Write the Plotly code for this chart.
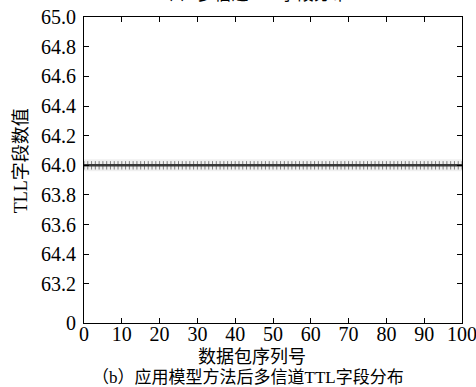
import plotly.graph_objects as go

# ---- data ----
packet_ids = list(range(0, 101))
ttl_values = [
    64.0, 64.0, 64.0, 64.0, 64.0, 64.0, 64.0, 64.0, 64.0, 64.0,
    64.0, 64.0, 64.0, 64.0, 64.0, 64.0, 64.0, 64.0, 64.0, 64.0,
    64.0, 64.0, 64.0, 64.0, 64.0, 64.0, 64.0, 64.0, 64.0, 64.0,
    64.0, 64.0, 64.0, 64.0, 64.0, 64.0, 64.0, 64.0, 64.0, 64.0,
    64.0, 64.0, 64.0, 64.0, 64.0, 64.0, 64.0, 64.0, 64.0, 64.0,
    64.0, 64.0, 64.0, 64.0, 64.0, 64.0, 64.0, 64.0, 64.0, 64.0,
    64.0, 64.0, 64.0, 64.0, 64.0, 64.0, 64.0, 64.0, 64.0, 64.0,
    64.0, 64.0, 64.0, 64.0, 64.0, 64.0, 64.0, 64.0, 64.0, 64.0,
    64.0, 64.0, 64.0, 64.0, 64.0, 64.0, 64.0, 64.0, 64.0, 64.0,
    64.0, 64.0, 64.0, 64.0, 64.0, 64.0, 64.0, 64.0, 64.0, 64.0,
    64.0,
]
x_tick_vals = [0, 10, 20, 30, 40, 50, 60, 70, 80, 90, 100]
y_tick_vals = [62.937, 63.2, 63.4, 63.6, 63.8, 64.0, 64.2, 64.4, 64.6, 64.8, 65.0]
y_tick_text = ["0", "63.2", "64.4", "63.6", "63.8", "64.0", "64.2", "64.4", "64.6", "64.8", "65.0"]

FONT = "Liberation Serif, 'Noto Sans CJK SC', serif"

fig = go.Figure()
# faint halo
fig.add_trace(go.Scatter(
    x=packet_ids, y=ttl_values, mode="lines",
    line=dict(color="rgba(0,0,0,0.06)", width=12),
    hoverinfo="skip", showlegend=False))
# core line with tick markers
fig.add_trace(go.Scatter(
    x=packet_ids, y=ttl_values, mode="lines+markers",
    line=dict(color="#383838", width=2.5),
    marker=dict(symbol="line-ns", size=6, line=dict(color="rgba(50,50,50,0.6)", width=1)),
    showlegend=False))

fig.update_layout(
    width=476, height=387,
    margin=dict(l=84, r=14, t=17, b=64, autoexpand=False),
    paper_bgcolor="white", plot_bgcolor="white",
    font=dict(family=FONT, color="black", size=18),
    xaxis=dict(
        range=[0, 100], tickvals=x_tick_vals, ticks="inside", ticklen=5,
        tickcolor="black", showline=True, linecolor="black", linewidth=1.2,
        mirror="ticks", showgrid=False, zeroline=False, automargin=False,
        ticklabelstandoff=-7, ticklabeloverflow="allow",
        tickfont=dict(family=FONT, size=20),
    ),
    yaxis=dict(
        range=[62.937, 65.0], tickvals=y_tick_vals, ticktext=y_tick_text,
        ticks="inside", ticklen=5, tickcolor="black", showline=True,
        linecolor="black", linewidth=1.2, mirror="ticks", showgrid=False,
        zeroline=False, automargin=False, ticklabelstandoff=3,
        ticklabeloverflow="allow",
        tickfont=dict(family=FONT, size=20),
    ),
    annotations=[
        dict(text="TLL字段数值", xref="paper", yref="paper",
             x=-0.168, y=0.53, xanchor="center", yanchor="middle", textangle=-90,
             showarrow=False, font=dict(family=FONT, size=18)),
        dict(text="数据包序列号", xref="paper", yref="paper",
             x=0.445, y=-0.11, xanchor="center", yanchor="middle",
             showarrow=False, font=dict(family=FONT, size=18)),
        dict(text="（b）应用模型方法后多信道TTL字段分布", xref="paper", yref="paper",
             x=0.435, y=-0.178, xanchor="center", yanchor="middle", showarrow=False,
             font=dict(family=FONT, size=17)),
        dict(text="（a）多信道TTL字段分布", xref="paper", yref="paper",
             x=0.445, y=1.075, xanchor="center", yanchor="middle", showarrow=False,
             font=dict(family=FONT, size=17)),
    ],
)

fig.write_html("out.html", config={"displayModeBar": False},
               post_script="document.body.style.margin='0';document.body.style.overflow='hidden';")
